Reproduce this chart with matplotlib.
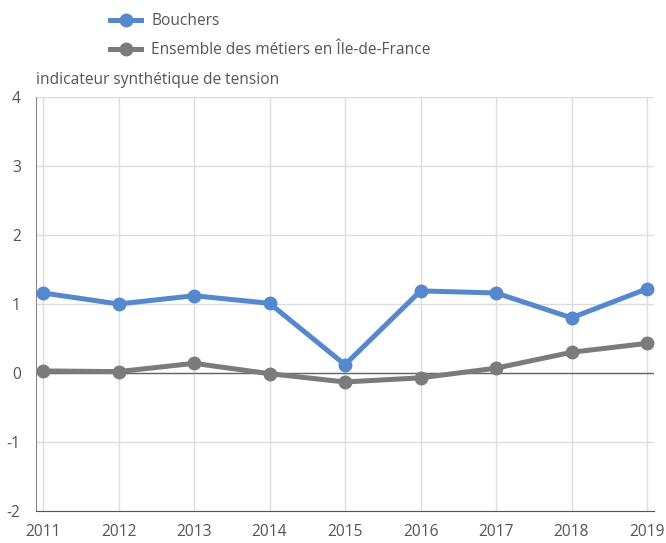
import matplotlib.pyplot as plt
from matplotlib.lines import Line2D

plt.rcParams['font.family'] = ['Open Sans', 'DejaVu Sans']
plt.rcParams['axes.unicode_minus'] = False

years = [2011, 2012, 2013, 2014, 2015, 2016, 2017, 2018, 2019]
bouchers = [1.16, 1.00, 1.12, 1.01, 0.12, 1.19, 1.16, 0.80, 1.22]
ensemble = [0.03, 0.02, 0.14, -0.01, -0.13, -0.07, 0.07, 0.30, 0.43]
yticks = [-2, -1, 0, 1, 2, 3, 4]

blue = '#5588cc'
grey = '#7b7b7b'
txt = '#555555'
fs = 11.2

fig = plt.figure(figsize=(6.66, 5.43), dpi=100)
ax = fig.add_axes([36/666, 32/543, 618/666, 414/543])

ax.plot(years, bouchers, color=blue, lw=3.6, marker='o', ms=9, zorder=4)
ax.plot(years, ensemble, color=grey, lw=3.6, marker='o', ms=9, zorder=3)

ax.set_xlim(2011 - 7/75.5, 2019 + 7/75.5)
ax.set_ylim(-2, 4)
ax.set_xticks(years)
ax.set_yticks(yticks)
ax.grid(True, color='#dcdcdc', lw=1)
ax.axhline(0, color='#666666', lw=1, zorder=2)
ax.set_axisbelow(True)

for s in ['top', 'right']:
    ax.spines[s].set_visible(False)
ax.spines['left'].set_color('#888888')
ax.spines['bottom'].set_color('#555555')
ax.tick_params(length=0, colors=txt, labelsize=fs)
ax.tick_params(axis='x', pad=9)
ax.tick_params(axis='y', pad=11)

fig.text(36/666, 1 - 80/543, 'indicateur synthétique de tension', color=txt,
         fontsize=fs, va='center', ha='left')

handles = [Line2D([], [], color=blue, lw=3.6, marker='o', ms=9),
           Line2D([], [], color=grey, lw=3.6, marker='o', ms=9)]
fig.legend(handles, ['Bouchers', 'Ensemble des métiers en Île-de-France'],
           loc='upper left', bbox_to_anchor=(96/666, 1 + 1/543), frameon=False,
           fontsize=fs, labelcolor=txt, handlelength=2.0, handletextpad=0.65,
           labelspacing=0.85)

fig.savefig('out.png', dpi=100)
